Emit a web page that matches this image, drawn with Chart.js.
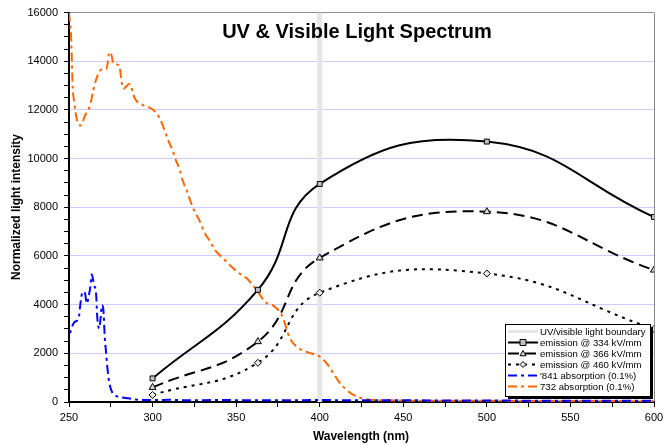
<!DOCTYPE html>
<html><head><meta charset="utf-8">
<script src="https://cdn.jsdelivr.net/npm/chart.js@4.4.1/dist/chart.umd.min.js"></script>
<style>html,body{margin:0;padding:0;background:#fff}#wrap{width:668px;height:445px;position:relative}</style>
</head><body><div id="wrap"><canvas id="c" width="668" height="445"></canvas></div>
<script>
const FONT = '"Liberation Sans", Arial, Helvetica, sans-serif';
const chartTitle = 'UV & Visible Light Spectrum';
const xTitle = 'Wavelength (nm)';
const yTitle = 'Normalized light intensity';
const seriesLabels = ['UV/visible light boundary', 'emission @ 334 kV/mm', 'emission @ 366 kV/mm',
  'emission @ 460 kV/mm', "'841 absorption (0.1%)", '732 absorption (0.1%)'];

const boundaryX = [400, 400];
const boundaryY = [0, 16000];

const emissionX = [300, 363, 400, 500, 600];
const em334 = [970, 4610, 8960, 10700, 7600];
const em366 = [600, 2480, 5920, 7820, 5420];
const em460 = [290, 1610, 4490, 5280, 3000];

const blueX = [249, 250.2, 252.2, 253.6, 255.8, 256.6, 258.2, 259.6, 260.6, 262.1, 263, 263.6, 265, 266.2, 266.9,
  268.1, 268.9, 269.7, 270.5, 271.5, 272.1, 272.9, 274.1, 276.1, 278, 281.5, 285.5, 290, 300, 310, 320, 340,
  360, 380, 400, 420, 450, 480, 500, 550, 600];
const blueY = [2300, 2700, 3160, 3300, 3430, 3910, 4530, 4460, 4050, 4460, 4840, 5250, 4800, 4460, 3500,
  3020, 3430, 3980, 3840, 2540, 2100, 1450, 790, 360, 250, 190, 150, 100, 80, 90, 70, 80,
  70, 70, 80, 70, 70, 60, 60, 50, 50];

const orangeX = [250, 250.6, 251.2, 251.6, 252.2, 253, 254.6, 257, 259.6, 262.6, 264.5, 267.5, 270.5, 272.5,
  274.1, 275.5, 276.5, 280.1, 281.5, 282.5, 286.1, 289.5, 294.5, 297.4, 300.9, 304.4, 306.8, 309.4, 312, 314,
  316.4, 318, 320.4, 322.8, 324.8, 328, 331.4, 334, 337.4, 341.4, 346.3, 351.3, 356.3, 358.3, 362.3, 367.3,
  373.2, 377.3, 379.8, 382.2, 386.2, 392.2, 398.2, 400.2, 404.2, 408.2, 412.2, 416.2, 421.1, 427.1, 434.1,
  450, 480, 500, 530, 560, 600];
const orangeY = [16000, 15600, 15120, 14300, 12940, 12390, 11640, 11360, 11770, 12180, 12800, 13490, 13690, 13690,
  14370, 14240, 13900, 13830, 13140, 12870, 13070, 12460, 12190, 12120, 11980, 11640, 11230, 10750, 10340, 9930,
  9520, 9110, 8700, 8220, 7880, 7470, 6920, 6650, 6240, 5960, 5620, 5320, 5080, 4940, 4600, 4120,
  3910, 3570, 3090, 2610, 2270, 2060, 1930, 1860, 1590, 1180, 770, 490, 260, 120, 80,
  60, 50, 50, 40, 40, 30];

const yTickLabels = [0, 2000, 4000, 6000, 8000, 10000, 12000, 14000, 16000];
const xTickLabels = [250, 300, 350, 400, 450, 500, 550, 600];

function pts(xs, ys) { return xs.map((x, i) => ({x: x, y: ys[i]})); }

const datasets = [
  {label: seriesLabels[0], data: pts(boundaryX, boundaryY), borderColor: '#e6e6e6', borderWidth: 5,
   pointRadius: 0, tension: 0, order: 10},
  {label: seriesLabels[1], data: pts(emissionX, em334), borderColor: '#000', borderWidth: 2, tension: 0.45,
   pointStyle: 'rect', pointRadius: 3.5, pointBackgroundColor: '#c0c0c0', pointBorderColor: '#000', pointBorderWidth: 1, order: 1},
  {label: seriesLabels[2], data: pts(emissionX, em366), borderColor: '#000', borderWidth: 2, tension: 0.45,
   borderDash: [11, 6], pointStyle: 'triangle', pointRadius: 4, pointBackgroundColor: '#d8d8d8', pointBorderColor: '#000', pointBorderWidth: 1, order: 2},
  {label: seriesLabels[3], data: pts(emissionX, em460), borderColor: '#000', borderWidth: 2, tension: 0.45,
   borderDash: [3, 5], pointStyle: 'rectRot', pointRadius: 3.5, pointBackgroundColor: '#e8e8e8', pointBorderColor: '#000', pointBorderWidth: 1, order: 3},
  {label: seriesLabels[4], data: pts(blueX, blueY), borderColor: '#0000ff', borderWidth: 2, pointRadius: 0,
   borderDash: [9, 4, 3, 4], cubicInterpolationMode: 'monotone', order: 4},
  {label: seriesLabels[5], data: pts(orangeX, orangeY), borderColor: '#ff6600', borderWidth: 2, pointRadius: 0,
   borderDash: [9, 4, 3, 4], cubicInterpolationMode: 'monotone', order: 5}
];

function drawMarker(ctx, style, x, y, r, fill) {
  ctx.save();
  ctx.setLineDash([]);
  ctx.fillStyle = fill; ctx.strokeStyle = '#000'; ctx.lineWidth = 1;
  ctx.beginPath();
  if (style === 'rect') { ctx.rect(x - r, y - r, 2 * r, 2 * r); }
  else if (style === 'triangle') { ctx.moveTo(x, y - r); ctx.lineTo(x + r, y + r * 0.75); ctx.lineTo(x - r, y + r * 0.75); ctx.closePath(); }
  else if (style === 'rectRot') { ctx.moveTo(x, y - r); ctx.lineTo(x + r, y); ctx.lineTo(x, y + r); ctx.lineTo(x - r, y); ctx.closePath(); }
  ctx.fill(); ctx.stroke();
  ctx.restore();
}

const decor = {
  id: 'decor',
  afterDraw(chart) {
    const ctx = chart.ctx;
    ctx.save();
    ctx.fillStyle = '#000';
    ctx.font = 'bold 20px ' + FONT;
    ctx.textAlign = 'center'; ctx.textBaseline = 'middle';
    ctx.fillText(chartTitle, 357, 32);
    ctx.font = 'bold 12px ' + FONT;
    ctx.fillText(xTitle, 361, 437);
    ctx.save();
    ctx.translate(17, 207); ctx.rotate(-Math.PI / 2);
    ctx.fillText(yTitle, 0, 0);
    ctx.restore();
    const bx = 505, by = 324, bw = 145, bh = 72;
    ctx.fillStyle = '#000';
    ctx.fillRect(bx + 3, by + 3, bw, bh);
    ctx.fillStyle = '#fff';
    ctx.fillRect(bx, by, bw, bh);
    ctx.strokeStyle = '#000'; ctx.lineWidth = 1;
    ctx.strokeRect(bx + 0.5, by + 0.5, bw, bh);
    ctx.font = '9.6px ' + FONT;
    ctx.textAlign = 'left'; ctx.textBaseline = 'middle';
    chart.data.datasets.forEach((ds, i) => {
      const y = 331.5 + i * 11;
      ctx.save();
      ctx.strokeStyle = ds.borderColor;
      ctx.lineWidth = i === 0 ? 3 : 2;
      ctx.setLineDash(ds.borderDash || []);
      ctx.beginPath(); ctx.moveTo(508, y); ctx.lineTo(538, y); ctx.stroke();
      ctx.restore();
      if (ds.pointRadius > 0) drawMarker(ctx, ds.pointStyle, 523, y, 3, ds.pointBackgroundColor);
      ctx.fillStyle = '#000';
      ctx.fillText(ds.label, 540, y + 0.5);
    });
    ctx.restore();
  }
};

new Chart(document.getElementById('c'), {
  type: 'line',
  data: {datasets: datasets},
  options: {
    responsive: false, animation: false, devicePixelRatio: 1,
    layout: {padding: {left: 0, top: 12, right: 14, bottom: 0}},
    plugins: {legend: {display: false}, title: {display: false}, tooltip: {enabled: false}},
    scales: {
      x: {
        type: 'linear', min: 250, max: 600,
        afterFit(s) { s.height = 43; },
        ticks: {stepSize: 25, autoSkip: false, maxRotation: 0, padding: 4, color: '#000',
          font: {family: FONT, size: 11},
          callback: v => xTickLabels.includes(v) ? String(v) : ''},
        grid: {drawTicks: true, tickLength: 5, tickColor: '#000', tickWidth: 1,
          color: c => (c.tick && c.tick.value === 600) ? '#8c8c8c' : 'rgba(0,0,0,0)', lineWidth: 1},
        border: {display: true, color: '#000', width: 2}
      },
      y: {
        type: 'linear', min: 0, max: 16000,
        afterFit(s) { s.width = 69; },
        ticks: {stepSize: 500, autoSkip: false, padding: 6, color: '#000',
          font: {family: FONT, size: 11},
          callback: v => yTickLabels.includes(v) ? String(v) : ''},
        grid: {drawTicks: true, tickLength: 5, tickColor: '#000', tickWidth: 1,
          color: c => {
            const v = c.tick ? c.tick.value : -1;
            if (v === 16000) return '#8c8c8c';
            if (v === 0) return 'rgba(0,0,0,0)';
            return v % 2000 === 0 ? '#ccccff' : 'rgba(0,0,0,0)';
          }, lineWidth: 1},
        border: {display: true, color: '#000', width: 2}
      }
    }
  },
  plugins: [decor]
});
</script></body></html>
